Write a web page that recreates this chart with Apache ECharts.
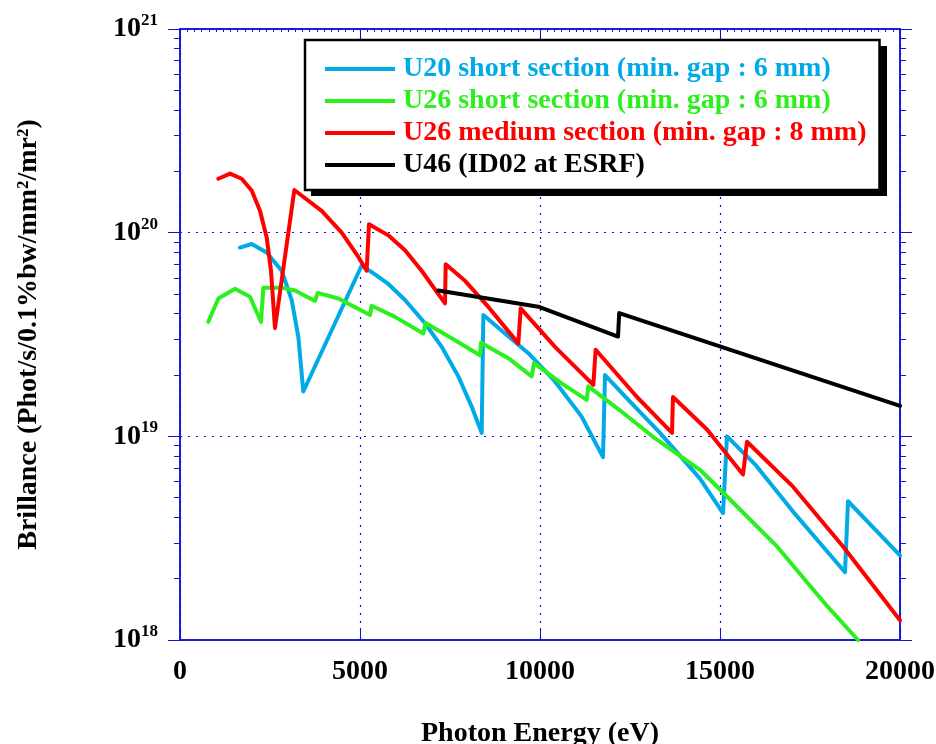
<!DOCTYPE html>
<html>
<head>
<meta charset="utf-8">
<script src="https://cdn.jsdelivr.net/npm/echarts@6/dist/echarts.min.js"></script>
<style>html,body{margin:0;padding:0;background:#fff;}#c{width:936px;height:744px;}</style>
</head>
<body>
<div id="c"></div>
<script>
// ---- data (photon energy eV, brilliance phot/s/0.1%bw/mm2/mr2) ----
const u20Short = [[1667,8.45e19],[1991,8.8e19],[2407,8.0e19],[2824,6.5e19],[3102,4.67e19],[3287,3.08e19],[3426,1.66e19],
  [5046,6.9e19],[5324,6.4e19],[5787,5.6e19],[6250,4.67e19],[6806,3.59e19],[7269,2.75e19],[7731,1.97e19],[8102,1.4e19],[8380,1.04e19],
  [8426,3.94e19],[9028,3.2e19],[9676,2.56e19],[10417,1.86e19],[11157,1.25e19],[11750,7.9e18],
  [11806,2.0e19],[12500,1.48e19],[13333,1.04e19],[14444,6.2e18],[15083,4.2e18],
  [15194,1.0e19],[16000,7.2e18],[17028,4.27e18],[18472,2.15e18],
  [18556,4.8e18],[20000,2.6e18]];
const u26Short = [[787,3.65e19],[1065,4.75e19],[1528,5.3e19],[1944,4.84e19],[2250,3.65e19],
  [2315,5.37e19],[2824,5.37e19],[3194,5.2e19],[3750,4.62e19],
  [3824,5.06e19],[4398,4.75e19],[5278,3.94e19],
  [5324,4.38e19],[5972,3.86e19],[6759,3.2e19],
  [6824,3.6e19],[7546,3.03e19],[8333,2.5e19],
  [8361,2.88e19],[9120,2.42e19],[9769,1.97e19],
  [9833,2.29e19],[10602,1.82e19],[11296,1.51e19],
  [11343,1.76e19],[12200,1.35e19],[13139,9.95e18],[14444,6.85e18],[15083,5.3e18],[16583,2.88e18],[17972,1.47e18],[18833,1.0e18]];
const u26Medium = [[1065,1.84e20],[1389,1.95e20],[1713,1.84e20],[1991,1.61e20],[2222,1.28e20],[2407,9.5e19],[2528,6.5e19],[2639,3.4e19],
  [3176,1.62e20],[3935,1.28e20],[4491,1.0e20],[4954,7.6e19],[5185,6.5e19],
  [5250,1.1e20],[5787,9.7e19],[6250,8.2e19],[6713,6.5e19],[7361,4.5e19],
  [7380,7.0e19],[7917,5.8e19],[8565,4.32e19],[9398,2.86e19],
  [9463,4.25e19],[10417,2.75e19],[11481,1.79e19],
  [11546,2.66e19],[12694,1.56e19],[13667,1.04e19],
  [13694,1.56e19],[14639,1.08e19],[15639,6.5e18],
  [15750,9.4e18],[17028,5.66e18],[18417,2.88e18],[20000,1.25e18]];
const u46 = [[7176,5.2e19],[9954,4.33e19],[12167,3.09e19],[12200,4.03e19],[20000,1.41e19]];

const seriesNames = ['U20 short section (min. gap : 6 mm)','U26 short section (min. gap : 6 mm)','U26 medium section (min. gap : 8 mm)','U46 (ID02 at ESRF)'];
const seriesColors = ['#00aae6','#2cf01e','#ff0000','#000000'];
const xTickValues = [0,5000,10000,15000,20000];
const yDecades = [18,19,20,21];
const yMinorExps = [];
for (let n = 18; n < 21; n++) for (let k = 2; k <= 9; k++) yMinorExps.push(n + Math.log10(k));

const FONT = '"Liberation Serif","Times New Roman",serif';
const AX = '#1010d8';

const chart = echarts.init(document.getElementById('c'));
const dataSets = [u20Short,u26Short,u26Medium,u46];

chart.setOption({
  animation:false,
  backgroundColor:'#fff',
  grid:{left:180,right:36,top:29,bottom:104,outerBoundsMode:'none',containLabel:false,
        show:true,borderColor:AX,borderWidth:1.5,backgroundColor:'transparent'},
  graphic:[{type:'rect',z:1,shape:{x:311,y:46,width:576,height:150},style:{fill:'#000'}}],
  legend:{
    orient:'vertical', left:305, top:40, z:10,
    backgroundColor:'#fff', borderColor:'#000', borderWidth:2.5,
    padding:[15,13,11,20], itemGap:4,
    itemWidth:70, itemHeight:4, icon:'rect',
    data: seriesNames.map((n,i)=>({name:n, textStyle:{color:seriesColors[i]}})),
    textStyle:{fontFamily:FONT, fontWeight:'bold', fontSize:28, padding:[0,0,0,3]}
  },
  xAxis:[{
    type:'value', position:'bottom', min:0, max:20000, interval:5000,
    axisLine:{lineStyle:{color:AX,width:1.5}},
    axisTick:{inside:true,length:12,lineStyle:{color:AX}},
    axisLabel:{fontFamily:FONT,fontWeight:'bold',fontSize:28,color:'#000',margin:18,
      customValues:xTickValues, formatter:function(v){return String(v);}},
    splitLine:{show:true,lineStyle:{color:AX,type:[2,6],width:1.2}},
    name:'Photon Energy (eV)', nameLocation:'middle', nameGap:80,
    nameTextStyle:{fontFamily:FONT,fontWeight:'bold',fontSize:28,color:'#000'}
  },{
    type:'value', position:'top', min:0, max:20000, interval:5000,
    axisLine:{lineStyle:{color:AX,width:1.5}},
    axisTick:{inside:true,length:12,lineStyle:{color:AX}},
    minorTick:{show:true,splitNumber:25,length:3,lineStyle:{color:AX}},
    axisLabel:{show:false}, splitLine:{show:false}
  }],
  yAxis:[{
    type:'log', logBase:10, min:1e18, max:1e21, position:'left',
    axisLine:{show:true,lineStyle:{color:AX,width:1.5}},
    axisTick:{show:true,inside:false,length:12,lineStyle:{color:AX}},
    axisLabel:{margin:22,color:'#000',
      formatter:function(v){const e=Math.round(Math.log10(v));return '{b|10}{s|'+e+'}';},
      rich:{b:{fontFamily:FONT,fontWeight:'bold',fontSize:28,color:'#000',lineHeight:34},
            s:{fontFamily:FONT,fontWeight:'bold',fontSize:17,color:'#000',verticalAlign:'top',lineHeight:17}}},
    splitLine:{show:true,lineStyle:{color:AX,type:[2,6],width:1.2}},
    name:'Brillance (Phot/s/0.1%bw/mm\u00b2/mr\u00b2)', nameLocation:'middle', nameGap:137, nameRotate:90,
    nameTextStyle:{fontFamily:FONT,fontWeight:'bold',fontSize:28,color:'#000'}
  },{
    type:'value', min:18, max:21, position:'left',
    axisLine:{show:false}, axisLabel:{show:false}, splitLine:{show:false},
    axisTick:{show:true,inside:false,length:6,lineStyle:{color:AX},customValues:yMinorExps}
  },{
    type:'value', min:18, max:21, position:'right',
    axisLine:{show:true,lineStyle:{color:AX,width:1.5}}, axisLabel:{show:false}, splitLine:{show:false},
    axisTick:{show:true,inside:false,length:6,lineStyle:{color:AX},customValues:yMinorExps}
  },{
    type:'value', min:18, max:21, position:'right',
    axisLine:{show:false}, axisLabel:{show:false}, splitLine:{show:false},
    axisTick:{show:true,inside:false,length:12,lineStyle:{color:AX},customValues:yDecades}
  }],
  series: dataSets.map((d,i)=>({
    name:seriesNames[i], type:'line', data:d, xAxisIndex:0, yAxisIndex:0,
    symbol:'none', smooth:false, clip:true,
    lineStyle:{color:seriesColors[i],width:4, join:'round', cap:'round'},
    itemStyle:{color:seriesColors[i]},
    z:2+i
  }))
});
</script>
</body>
</html>
